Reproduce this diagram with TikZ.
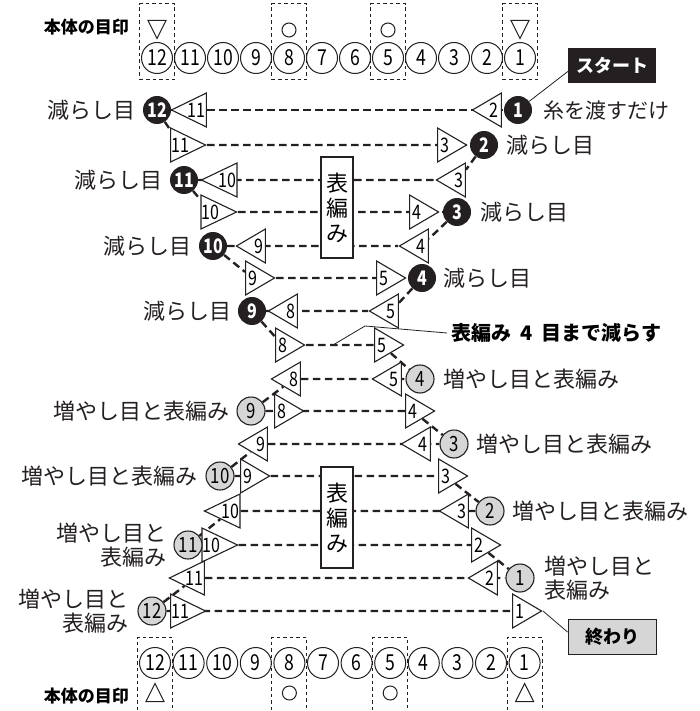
\documentclass[tikz,border=0pt]{standalone}
\usepackage{fontspec}
\setmainfont{Noto Sans CJK JP}
\newfontfamily\numfont{Noto Sans CJK JP}[FakeStretch=0.8]
\usetikzlibrary{shapes.geometric,positioning,backgrounds}
\definecolor{inkblk}{rgb}{0.14,0.12,0.13}
\definecolor{incgray}{rgb}{0.84,0.84,0.84}
\tikzset{
  decst/.style={circle, fill=inkblk, text=white, minimum size=28pt, inner sep=0pt,
                font=\numfont\fontsize{20}{20}\selectfont\bfseries},
  incst/.style={circle, draw=inkblk, fill=incgray, line width=1.1pt, minimum size=28pt,
                inner sep=0pt, font=\numfont\fontsize{21}{21}\selectfont},
  stitch/.style={isosceles triangle, isosceles triangle stretches, draw=inkblk, fill=white,
                 line width=1.1pt, minimum width=34pt, minimum height=29pt, inner sep=0pt,
                 anchor=apex, font=\numfont\fontsize{20}{20}\selectfont},
  fwd/.style={stitch, shape border rotate=0},
  bwd/.style={stitch, shape border rotate=180},
  yarn/.style={line width=2.4pt, draw=inkblk, dash pattern=on 7.5pt off 4.5pt},
  lbl/.style={inner sep=0pt, text=inkblk, align=center, font=\fontsize{22}{24}\selectfont},
  lead/.style={line width=0.8pt, draw=inkblk},
}

\begin{document}
\begin{tikzpicture}[x=1pt, y=-1pt,
    mcirc/.style={circle, draw=inkblk, fill=white, line width=1pt, minimum size=31pt,
                  inner sep=0pt, font=\numfont\fontsize{22}{22}\selectfont},
    markbox/.style={draw=inkblk, dash pattern=on 3.5pt off 3pt, line width=1pt,
                    minimum width=35pt, inner sep=0pt},
    marktri/.style={isosceles triangle, isosceles triangle stretches, draw=inkblk,
                    line width=1pt, minimum width=18pt, minimum height=18pt, inner sep=0pt},
    ring/.style={circle, draw=inkblk, line width=1pt, minimum size=14pt, inner sep=0pt},
    marklbl/.style={anchor=east, inner sep=0pt, font=\fontsize{17}{17}\selectfont\bfseries},
    knit/.style={draw=inkblk, fill=white, line width=1.2pt, minimum width=32pt,
                 minimum height=101pt, inner sep=0pt, align=center,
                 font=\fontsize{22}{25}\selectfont},
    startbox/.style={fill=inkblk, text=white, minimum width=88pt, minimum height=35pt,
                     font=\fontsize{18}{18}\selectfont\bfseries},
    endbox/.style={draw=inkblk, fill=incgray, line width=1pt, minimum width=88pt,
                   minimum height=35pt, font=\fontsize{18}{18}\selectfont\bfseries},
    note/.style={anchor=west, inner sep=4pt, font=\fontsize{20}{20}\selectfont\bfseries}]
  \useasboundingbox (0,0) rectangle (700,711);

  % body marks, top and bottom
  \foreach \n in {1,...,12}{
    \node[mcirc] (top\n) at ({157+(12-\n)*33},58) {\n};
    \node[mcirc] (bot\n) at ({155+(12-\n)*33.6},663) {\n};
  }
  \foreach \n in {12,8,5,1}{
    \node[markbox, minimum height=76pt] (tm\n) at ([yshift=16pt]top\n) {};
    \node[markbox, minimum height=75pt] (bm\n) at ([yshift=-11.5pt]bot\n) {};
  }
  \node[marktri, shape border rotate=270] (tv12) at ([yshift=32pt]top12) {};
  \node[marktri, shape border rotate=270] (tv1) at ([yshift=32pt]top1) {};
  \node[ring] (to8) at ([yshift=28pt]top8) {};
  \node[ring] (to5) at ([yshift=28pt]top5) {};
  \node[marktri, shape border rotate=90] (bv12) at ([yshift=-33pt]bot12) {};
  \node[marktri, shape border rotate=90] (bv1) at ([yshift=-33pt]bot1) {};
  \node[ring] (bo8) at ([yshift=-30pt]bot8) {};
  \node[ring] (bo5) at ([yshift=-30pt]bot5) {};
  \node[marklbl] (toplbl) at (129,27) {本体の目印};
  \node[marklbl] (botlbl) at (129,696) {本体の目印};

  % stitches, row by row
  \node[bwd] (t1L) at (170,110) {11};   \node[bwd] (t1R) at (471,110) {2};
  \node[fwd] (t2L) at (207,145) {11};   \node[fwd] (t2R) at (468,145) {3};
  \node[bwd] (t3L) at (200,180) {10};   \node[bwd] (t3R) at (435,180) {3};
  \node[fwd] (t4L) at (238,212) {10};   \node[fwd] (t4R) at (440,212) {4};
  \node[bwd] (t5L) at (235,246) {9};    \node[bwd] (t5R) at (398,246) {4};
  \node[fwd] (t6L) at (276,278) {9};    \node[fwd] (t6R) at (407,278) {5};
  \node[bwd] (t7L) at (267,311) {8};    \node[bwd] (t7R) at (368,311) {5};
  \node[fwd] (t8L) at (306,345) {8};    \node[fwd] (t8R) at (405,345) {5};
  \node[bwd] (t9L) at (270,379) {8};    \node[bwd] (t9R) at (371,379) {5};
  \node[fwd] (t10L) at (305,411) {8};   \node[fwd] (t10R) at (436,411) {4};
  \node[bwd] (t11L) at (237,444) {9};   \node[bwd] (t11R) at (400,444) {4};
  \node[fwd] (t12L) at (271,476) {9};   \node[fwd] (t12R) at (469,476) {3};
  \node[bwd] (t13L) at (203,511) {10};  \node[bwd] (t13R) at (438,511) {3};
  \node[fwd] (t14L) at (239,545) {10};  \node[fwd] (t14R) at (502,545) {2};
  \node[bwd] (t15L) at (168,578) {11};  \node[bwd] (t15R) at (467,578) {2};
  \node[fwd] (t16L) at (207,611) {11};  \node[fwd] (t16R) at (543,611) {1};

  % decreases (black) and increases (gray)
  \node[decst] (c1L) at (157,110) {12};  \node[decst] (c1R) at (518,110) {1};
  \node[decst] (c2R) at (484,145) {2};
  \node[decst] (c3L) at (184,180) {11};
  \node[decst] (c4R) at (457,212) {3};
  \node[decst] (c5L) at (213,246) {10};
  \node[decst] (c6R) at (422,278) {4};
  \node[decst] (c7L) at (252,311) {9};
  \node[incst] (c9R) at (420,379) {4};
  \node[incst] (c10L) at (251,411) {9};
  \node[incst] (c11R) at (454,444) {3};
  \node[incst] (c12L) at (220,476) {10};
  \node[incst] (c13R) at (490,511) {2};
  \node[incst] (c14L) at (188,545) {11};
  \node[incst] (c15R) at (520,578) {1};
  \node[incst] (c16L) at (152,611) {12};

  \node[lbl, left=7pt of c1L] (l1L) {減らし目};
  \node[lbl, right=11pt of c1R, font=\fontsize{21}{24}\selectfont] (l1R) {糸を渡すだけ};
  \node[lbl, right=8pt of c2R] (l2R) {減らし目};
  \node[lbl, left=7pt of c3L] (l3L) {減らし目};
  \node[lbl, right=9pt of c4R] (l4R) {減らし目};
  \node[lbl, left=7pt of c5L] (l5L) {減らし目};
  \node[lbl, right=7pt of c6R] (l6R) {減らし目};
  \node[lbl, left=6pt of c7L] (l7L) {減らし目};
  \node[lbl, right=9pt of c9R] (l9R) {増やし目と表編み};
  \node[lbl, left=7pt of c10L] (l10L) {増やし目と表編み};
  \node[lbl, right=8pt of c11R] (l11R) {増やし目と表編み};
  \node[lbl, left=8pt of c12L] (l12L) {増やし目と表編み};
  \node[lbl, right=8pt of c13R] (l13R) {増やし目と表編み};
  \node[lbl, left=7pt of c14L, align=right] (l14L) {増やし目と\\表編み};
  \node[lbl, right=10pt of c15R, align=left] (l15R) {増やし目と\\表編み};
  \node[lbl, left=9pt of c16L, align=right] (l16L) {増やし目と\\表編み};

  % knit-only blocks
  \node[knit] (knitA) at (337,207.5) {表\\編\\み};
  \node[knit] (knitB) at (337,517.5) {表\\編\\み};

  % callouts
  \node[startbox] (start) at (612,65.5) {スタート};
  \node[endbox] (finish) at (612,636.5) {終わり};
  \node[note] (cut) at (447,333) {表編み\hspace{9pt}4\hspace{9pt}目まで減らす};
  \coordinate (cutA) at (333,345);
  \coordinate (cutB) at (365,326);
  \draw[lead] (c1R) -- ([yshift=-6pt]start.west);
  \draw[lead] (t16R.apex) -- ([yshift=4.5pt]finish.west);
  \draw[lead] (cut.west) -- (cutB) -- (cutA);

  \begin{scope}[on background layer]
    % yarn along each row
    \draw[yarn] (c1L) -- (c1R);
    \draw[yarn] (t2L) -- (c2R);
    \draw[yarn] (c3L) -- (t3R);
    \draw[yarn] (t4L) -- (c4R);
    \draw[yarn] (c5L) -- (t5R);
    \draw[yarn] (t6L) -- (c6R);
    \draw[yarn] (c7L) -- (t7R);
    \draw[yarn] (t8L) -- (t8R);
    \draw[yarn] (t9L) -- (c9R);
    \draw[yarn] (c10L) -- (t10R);
    \draw[yarn] (t11L) -- (c11R);
    \draw[yarn] (c12L) -- (t12R);
    \draw[yarn] (t13L) -- (c13R);
    \draw[yarn] (c14L) -- (t14R);
    \draw[yarn] (t15L) -- (c15R);
    \draw[yarn] (c16L) -- (t16R);
    % turning between rows
    \draw[yarn] (c1L) -- (t2L);
    \draw[yarn] (c3L) -- (t4L);
    \draw[yarn] (c5L) -- (t6L);
    \draw[yarn] (c7L) -- (t8L);
    \draw[yarn] (c10L) -- (t9L);
    \draw[yarn] (c12L) -- (t11L);
    \draw[yarn] (c14L) -- (t13L);
    \draw[yarn] (c16L) -- (t15L);
    \draw[yarn] (c2R) -- (t3R);
    \draw[yarn] (c4R) -- (t5R);
    \draw[yarn] (c6R) -- (t7R);
    \draw[yarn] (t8R) -- (c9R);
    \draw[yarn] (t10R) -- (c11R);
    \draw[yarn] (t12R) -- (c13R);
    \draw[yarn] (t14R) -- (c15R);
  \end{scope}
\end{tikzpicture}
\end{document}
